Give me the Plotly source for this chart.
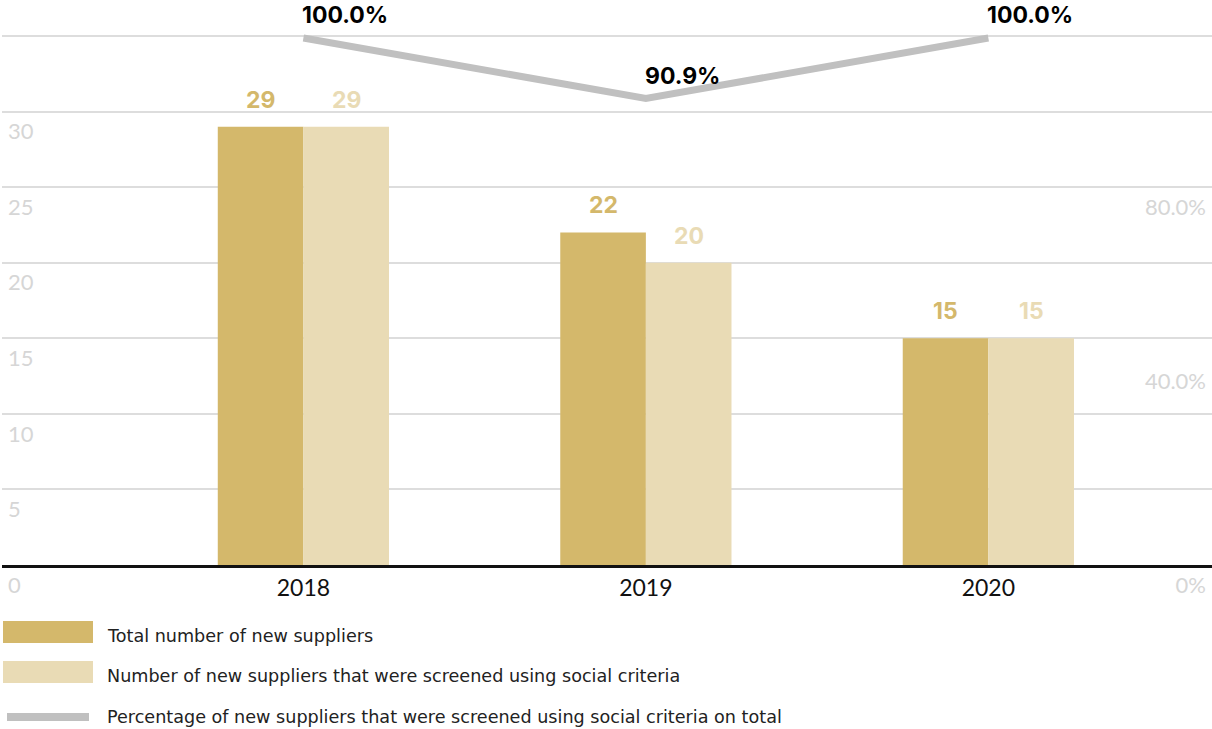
import plotly.graph_objects as go

# ---- data ----
years = ["2018", "2019", "2020"]
total_new = [29, 22, 15]
screened_new = [29, 20, 15]
pct_screened = [100.0, 90.9, 100.0]
left_ticks = [0, 5, 10, 15, 20, 25, 30, 35]
left_tick_text = ["0", "5", "10", "15", "20", "25", "30", ""]
right_tick_text = ["0%", "40.0%", "80.0%"]
legend_names = [
    "Total number of new suppliers",
    "Number of new suppliers that were screened using social criteria",
    "Percentage of new suppliers that were screened using social criteria on total",
]

# ---- styles ----
DARK = "#D4B86B"
LIGHT = "#E9DBB5"
GREY_LINE = "#C0C0C0"
GRID = "#DDDDDD"
TICK_GREY = "#D6D6D6"
FONT = "Lato"
BOLD_FONT = "Inter"
LEGEND_FONT = "DejaVu Sans"

W, H = 1212, 729
ML, MR, MT, MB = 2, 0, 34, 164
PW, PH = W - ML - MR, H - MT - MB
X_RANGE = [-0.88, 2.653]
BARGAP = 0.5

def px(x):
    return (x - ML) / PW

def py(y):
    return (H - MB - y) / PH

# pixel offset of each bar centre from its category centre
px_per_cat = PW / (X_RANGE[1] - X_RANGE[0])
bar_off = (1 - BARGAP) / 4 * px_per_cat

fig = go.Figure()

fig.add_trace(go.Bar(
    x=years, y=total_new, name=legend_names[0], marker=dict(color=DARK, line=dict(width=0)),
))
fig.add_trace(go.Bar(
    x=years, y=screened_new, name=legend_names[1], marker=dict(color=LIGHT, line=dict(width=0)),
))
fig.add_trace(go.Scatter(
    x=years, y=pct_screened, name=legend_names[2], yaxis="y2", mode="lines",
    line=dict(color=GREY_LINE, width=7), cliponaxis=False,
))

# right axis range/ticks chosen to reproduce the picture's placement
y2_range = [20.75, 100.6]
right_tick_vals = [20.75, 51.4, 77.5]

fig.update_layout(
    width=W, height=H,
    margin=dict(l=ML, r=MR, t=MT, b=MB, pad=0),
    paper_bgcolor="white", plot_bgcolor="white",
    barmode="group", bargap=BARGAP, bargroupgap=0,
    showlegend=False,
    font=dict(family=FONT),
    xaxis=dict(
        type="category", range=X_RANGE, showgrid=False, zeroline=False,
        showline=True, linecolor="#111111", linewidth=3,
        tickfont=dict(family=FONT, size=23, color="#111111"), ticks="",
    ),
    yaxis=dict(
        range=[0, 35.132], tickvals=left_ticks, ticktext=left_tick_text,
        showgrid=True, gridcolor=GRID, gridwidth=1.5, zeroline=False,
        ticklabelposition="inside", ticklabelshift=20, ticklabelstandoff=3,
        ticklabeloverflow="allow",
        tickfont=dict(family=FONT, size=22, color=TICK_GREY), ticks="",
    ),
    yaxis2=dict(
        overlaying="y", side="right", range=y2_range,
        tickvals=right_tick_vals, ticktext=right_tick_text,
        showgrid=False, zeroline=False,
        ticklabelposition="inside", ticklabelshift=20, ticklabelstandoff=3,
        ticklabeloverflow="allow",
        tickfont=dict(family=FONT, size=22, color=TICK_GREY), ticks="",
    ),
)

annotations = []
# bar value labels (category axis: numeric index positions)
for vals, off, col in [(total_new, -bar_off, DARK), (screened_new, bar_off, LIGHT)]:
    for i, v in enumerate(vals):
        annotations.append(dict(
            x=i, y=v, xref="x", yref="y", xshift=off, yshift=27,
            xanchor="center", yanchor="middle", text=f"<b>{v}</b>", showarrow=False,
            font=dict(family=BOLD_FONT, size=23, color=col),
        ))
# percentage labels
for i, v in enumerate(pct_screened):
    annotations.append(dict(
        x=i, y=v, xref="x", yref="y2", xshift=-3, yshift=23,
        xanchor="left", yanchor="middle", text=f"<b>{v:.1f}%</b>", showarrow=False,
        font=dict(family=BOLD_FONT, size=23, color="#000000"),
    ))

# manual legend with large swatches
shapes = [
    dict(type="rect", xref="paper", yref="paper", x0=px(3), x1=px(93), y0=py(643), y1=py(621),
         fillcolor=DARK, line=dict(width=0)),
    dict(type="rect", xref="paper", yref="paper", x0=px(3), x1=px(93), y0=py(683), y1=py(661),
         fillcolor=LIGHT, line=dict(width=0)),
    dict(type="line", xref="paper", yref="paper", x0=px(7), x1=px(89), y0=py(717), y1=py(717),
         line=dict(color=GREY_LINE, width=8)),
]
for name, yy in zip(legend_names, [636, 676, 717]):
    annotations.append(dict(
        xref="paper", yref="paper", x=px(105), y=py(yy), xanchor="left", yanchor="middle",
        text=name, showarrow=False, font=dict(family=LEGEND_FONT, size=17.6, color="#222222"),
    ))
fig.update_layout(shapes=shapes, annotations=annotations)

fig.write_html("out.html", config=dict(displayModeBar=False),
               post_script="document.body.style.margin='0';")
